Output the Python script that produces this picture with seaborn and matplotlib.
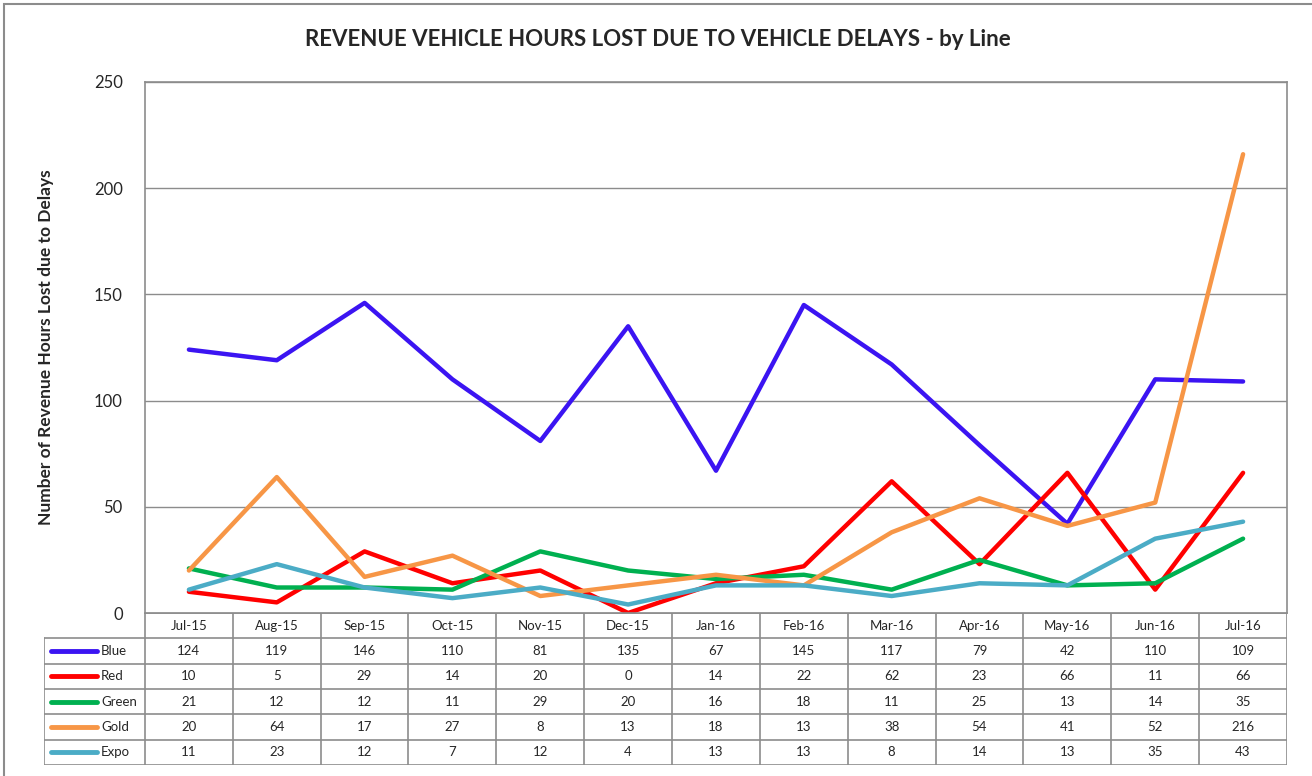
import numpy as np
import pandas as pd
import matplotlib
matplotlib.use("Agg")
import matplotlib.pyplot as plt
import seaborn as sns
from matplotlib.patches import Rectangle

months = ['Jul-15', 'Aug-15', 'Sep-15', 'Oct-15', 'Nov-15', 'Dec-15', 'Jan-16',
          'Feb-16', 'Mar-16', 'Apr-16', 'May-16', 'Jun-16', 'Jul-16']
blue = [124, 119, 146, 110, 81, 135, 67, 145, 117, 79, 42, 110, 109]
red = [10, 5, 29, 14, 20, 0, 14, 22, 62, 23, 66, 11, 66]
green = [21, 12, 12, 11, 29, 20, 16, 18, 11, 25, 13, 14, 35]
gold = [20, 64, 17, 27, 8, 13, 18, 13, 38, 54, 41, 52, 216]
expo = [11, 23, 12, 7, 12, 4, 13, 13, 8, 14, 13, 35, 43]

line_names = ['Blue', 'Red', 'Green', 'Gold', 'Expo']
line_values = [blue, red, green, gold, expo]
line_colors = ['#3B14F2', '#FF0000', '#00B050', '#F79646', '#4BACC6']

sns.set_style("white")
plt.rcParams['font.family'] = ['Lato', 'DejaVu Sans']

rows = []
for name, vals in zip(line_names, line_values):
    for i, v in enumerate(vals):
        rows.append({'line': name, 'idx': i, 'value': v})
df = pd.DataFrame(rows)

fig = plt.figure(figsize=(13.12, 7.76), dpi=100)
W, H = 1312, 776

# outer chart border
fig.patches.append(Rectangle((4 / W, -0.01), 1.02, 1 - 4 / H + 0.01, transform=fig.transFigure,
                             fill=False, edgecolor='#8c8c8c', linewidth=1.5))

left, right = 145 / W, 1287 / W
bottom, top = 1 - 613 / H, 1 - 82 / H
ax = fig.add_axes([left, bottom, right - left, top - bottom])

sns.lineplot(data=df, x='idx', y='value', hue='line', hue_order=line_names,
             palette=dict(zip(line_names, line_colors)), linewidth=3.2,
             legend=False, ax=ax, sort=False)

ax.set_xlim(-0.5, len(months) - 0.5)
ax.set_ylim(0, 250)
ax.set_yticks([0, 50, 100, 150, 200, 250])
ax.set_xticks([])
ax.set_xlabel('')
ax.set_ylabel('Number of Revenue Hours Lost due to Delays', fontsize=12.5, fontweight='bold', labelpad=29)
ax.tick_params(axis='y', labelsize=12, pad=16, length=0)
ax.yaxis.grid(True, color='#8c8c8c', linewidth=1)
ax.set_axisbelow(True)
for s in ax.spines.values():
    s.set_color('#8c8c8c')
    s.set_linewidth(1.2)

fig.text(658 / W, 1 - 40 / H, 'REVENUE VEHICLE HOURS LOST DUE TO VEHICLE DELAYS - by Line',
         ha='center', va='center', fontsize=16, fontweight='bold')

# data table below the plot
label_w = 101 / 88.0
tb = fig.add_axes([44 / W, 1 - 765 / H, (1287 - 44) / W, (765 - 613) / H])
x0 = -0.5 - label_w
tb.set_xlim(x0, len(months) - 0.5)
tb.set_ylim(0, 6)
tb.axis('off')
gc = '#8c8c8c'
# horizontal lines
tb.plot([-0.5, len(months) - 0.5], [6, 6], color=gc, lw=1.2)
for yv in range(0, 6):
    tb.plot([x0, len(months) - 0.5], [yv, yv], color=gc, lw=1.2)
# vertical lines
tb.plot([x0, x0], [0, 5], color=gc, lw=1.2)
for i in range(len(months) + 1):
    tb.plot([i - 0.5, i - 0.5], [0, 6], color=gc, lw=1.2)

for i, m in enumerate(months):
    tb.text(i, 5.5, m, ha='center', va='center', fontsize=9.5)
for r, (name, vals, col) in enumerate(zip(line_names, line_values, line_colors)):
    yc = 4.5 - r
    tb.plot([x0 + 0.08, x0 + 0.6], [yc, yc], color=col, lw=3.5, solid_capstyle='round')
    tb.text(x0 + 0.65, yc, name, ha='left', va='center', fontsize=9.5)
    for i, v in enumerate(vals):
        tb.text(i, yc, str(v), ha='center', va='center', fontsize=9.5)

fig.savefig('out.png', dpi=100)
